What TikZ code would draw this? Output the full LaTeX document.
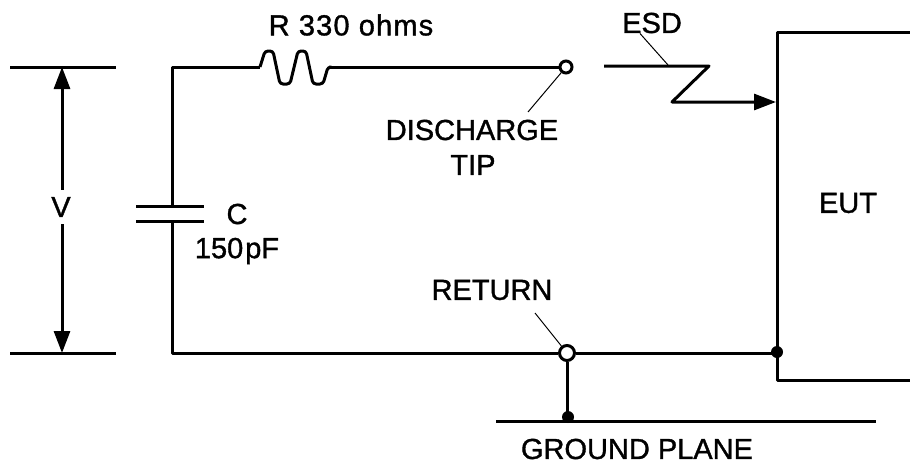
\documentclass[tikz,border=0pt]{standalone}
\usepackage{fontspec}
\setmainfont{Liberation Sans}[FakeBold=1.2]
\usetikzlibrary{arrows.meta}
\tikzset{
	wire/.style = {line width = 3pt, line join = round},
	leader/.style = {line width = 1pt},
	label/.style = {inner sep = 0pt, font = \fontsize{29}{29}\selectfont},
	openpin/.style = {circle, draw = black, fill = white, line width = 3pt, inner sep = 0pt},
	solidpin/.style = {circle, fill = black, minimum size = 12pt, inner sep = 0pt},
	bolt/.style = {wire, -{Triangle[length = 22pt, width = 16pt]}}
}
\begin{document}
\begin{tikzpicture}[x = 1pt, y = -1pt]
	\useasboundingbox (0,0) rectangle (910,469);
	\coordinate (BarTopL) at (10,67);
	\coordinate (BarTopR) at (116,67);
	\coordinate (BarBotL) at (10,353);
	\coordinate (BarBotR) at (116,353);
	\coordinate (ArrowTop) at (62,67);
	\coordinate (ArrowBot) at (62,353);
	\node (V) [label, minimum height = 34pt, minimum width = 24pt] at (61,207) {V};
	\draw [wire] (BarTopL) -- (BarTopR);
	\draw [wire] (BarBotL) -- (BarBotR);
	\draw [bolt] (62,207 |- V.north) -- (ArrowTop);
	\draw [bolt] (62,207 |- V.south) -- (ArrowBot);
	\coordinate (CornerTop) at (172,67);
	\coordinate (CornerBot) at (172,353);
	\coordinate (PlateTop) at (172,206);
	\coordinate (PlateBot) at (172,221);
	\coordinate (ResIn) at (260,67);
	\coordinate (ResOut) at (329,67);
	\node (Tip) [openpin, minimum size = 12pt] at (566,67) {};
	\node (Return) [openpin, minimum size = 15pt] at (567,353) {};
	\node (Junction) [solidpin] at (777,352) {};
	\node (Earth) [solidpin] at (568,417) {};
	\draw [wire] (PlateTop) -- (CornerTop) -- (ResIn);
	\draw [wire, rounded corners = 3pt] (ResIn) -- (265,51) -- (273,51) -- (280,84) -- (290,84) -- (298,51) -- (306,51) -- (313,84) -- (323,84) -- (328,67) -- (ResOut);
	\draw [wire] (ResOut) -- (Tip);
	\draw [wire] (136,206) -- (204,206);
	\draw [wire] (136,221) -- (204,221);
	\draw [wire] (PlateBot) -- (CornerBot) -- (Return);
	\draw [wire] (Return) -- (Junction.center |- Return);
	\draw [wire] (Return) -- (Return |- Earth);
	\draw [wire] (910,32) -- (777,32) -- (777,380) -- (910,380);
	\draw [wire] (496,421) -- (876,421);
	\coordinate (BoltStart) at (604,66);
	\coordinate (BoltEnd) at (776,102);
	\draw [bolt] (BoltStart) -- (709,66) -- (672,102) -- (BoltEnd);
	\node (Resistor) [label] at (351,25) {\addfontfeature{LetterSpace=4}R 330 ohms};
	\node (Discharge) [label] at (472,130) {DISCHARGE};
	\node (TipText) [label] at (473,165) {TIP};
	\node (ESD) [label] at (652,23) {ESD};
	\node (EUT) [label] at (848,203) {EUT};
	\node (C) [label] at (237,214) {C};
	\node (Farad) [label] at (237,251) {150\hspace{2pt}pF};
	\node (ReturnText) [label] at (492,290) {RETURN};
	\node (Ground) [label] at (637,449) {GROUND PLANE};
	\coordinate (EsdLine) at (668,65);
	\draw [leader] (ESD.south west) ++(18,0) -- (EsdLine);
	\draw [leader] (Tip) -- (528,112);
	\draw [leader] (Return) -- (535,313);
\end{tikzpicture}
\end{document}
